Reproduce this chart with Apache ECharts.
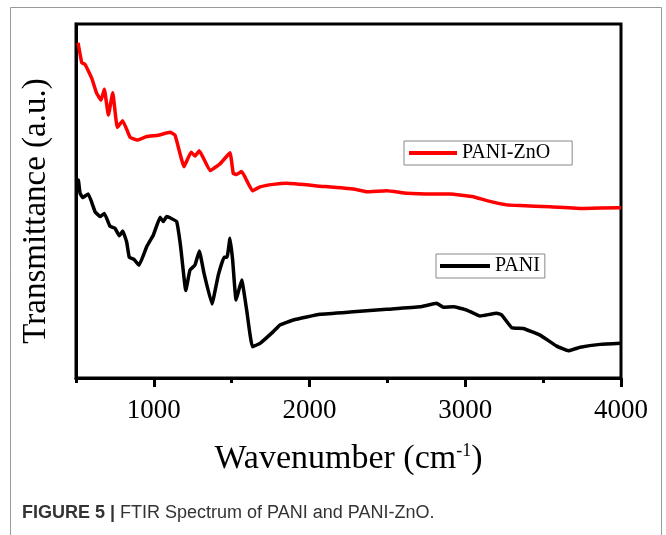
<!DOCTYPE html>
<html>
<head>
<meta charset="utf-8">
<script src="https://cdn.jsdelivr.net/npm/echarts@6/dist/echarts.min.js"></script>
<style>
html,body{margin:0;padding:0;background:#fff;}
#chart{width:666px;height:535px;}
</style>
</head>
<body>
<div id="chart"></div>
<script>
// Wavenumber (cm-1) and transmittance (arbitrary units)
var zncoWave = [513,537,558,601,633,661,682,708,736,765,800,847,894,954,1029,1104,1136,1194,1239,1264,1292,1361,1425,1489,1510,1530,1564,1633,1682,1767,1853,2067,2281,2367,2495,2624,2795,2902,3052,3138,3266,3352,3544,3758,3983,4000];
var zncoTrans = [94.7,89.1,88.6,84.7,80.4,78.5,81.6,74.3,80.6,70.8,72.7,68.0,67.2,68.2,68.6,69.4,68.6,59.7,63.8,62.7,64.2,58.6,60.5,63.6,57.8,57.5,58.3,52.9,54.0,54.7,55.0,54.2,53.4,52.6,52.9,52.2,52.0,52.0,51.2,50.1,48.9,48.7,48.4,47.9,48.1,48.1];

var paniWave = [505,515,526,543,579,622,654,682,718,750,778,800,825,842,872,905,954,997,1040,1061,1082,1146,1172,1205,1232,1264,1292,1322,1373,1414,1451,1470,1489,1506,1528,1564,1596,1633,1682,1767,1810,1896,2067,2281,2495,2709,2816,2859,2923,3009,3095,3202,3234,3298,3373,3480,3587,3662,3738,3866,4000];
var paniTrans = [53.1,55.9,52.2,51.0,52.0,47.0,45.6,46.5,42.9,42.3,40.2,41.5,38.5,34.1,33.5,31.9,37.1,40.4,45.4,44.2,45.6,44.2,37.1,24.7,30.5,31.9,35.9,29.6,20.9,29.1,34.1,34.1,39.5,33.3,22.0,27.7,19.2,8.8,9.8,13.1,15.0,16.4,18.0,18.7,19.4,20.1,21.1,20.0,20.1,19.2,17.5,18.3,17.8,14.2,14.0,12.1,9.0,7.7,8.7,9.5,9.8];

var majorTicks = [1000,2000,3000,4000];
var minorTicks = [500,1500,2500,3500];

function pairs(xs, ys){ return xs.map(function(x,i){ return [x, ys[i]]; }); }

var serif = '"Liberation Serif","Times New Roman",serif';
var sans = '"Liberation Sans",Arial,sans-serif';
var chart = echarts.init(document.getElementById('chart'), null, {renderer:'canvas'});
chart.setOption({
  backgroundColor:'#fff',
  animation:false,
  grid:{left:76, right:45, top:24, bottom:157, show:true, borderColor:'#000', borderWidth:3, backgroundColor:'transparent'},
  legend:[
    {data:['PANI-ZnO'], left:404, top:141, orient:'horizontal', icon:'rect', itemWidth:48, itemHeight:4,
     borderColor:'#888', borderWidth:1, padding:[2,22,2,5], itemGap:0,
     textStyle:{fontFamily:serif, fontSize:20, color:'#000'}},
    {data:['PANI'], left:436, top:254, orient:'horizontal', icon:'rect', itemWidth:50, itemHeight:4,
     borderColor:'#888', borderWidth:1, padding:[2,5,2,4], itemGap:0,
     textStyle:{fontFamily:serif, fontSize:20, color:'#000'}}
  ],
  xAxis:[
    {type:'value', min:500, max:4000, position:'bottom',
     axisLine:{show:true, lineStyle:{color:'#000', width:3}},
     axisTick:{show:true, inside:false, length:9, customValues:majorTicks, lineStyle:{color:'#000', width:3}},
     axisLabel:{show:true, customValues:majorTicks, margin:19, fontFamily:serif, fontSize:27, color:'#000',
       formatter:function(v){ return String(v); }},
     splitLine:{show:false},
     name:'{a|Wavenumber (cm}{s|-1}{a|)}', nameLocation:'middle', nameGap:64,
     nameTextStyle:{rich:{a:{fontFamily:serif, fontSize:34, color:'#000'}, s:{fontFamily:serif, fontSize:18, color:'#000', verticalAlign:'top', padding:[0,0,14,0]}}}
    },
    {type:'value', min:500, max:4000, position:'bottom',
     axisLine:{show:false},
     axisTick:{show:true, inside:false, length:5, customValues:minorTicks, lineStyle:{color:'#000', width:3}},
     axisLabel:{show:false}, splitLine:{show:false}}
  ],
  yAxis:{type:'value', min:0, max:100,
     axisLine:{show:true, lineStyle:{color:'#000', width:3}},
     axisTick:{show:false}, axisLabel:{show:false}, splitLine:{show:false}},
  series:[
    {name:'PANI-ZnO', type:'line', xAxisIndex:0, data:pairs(zncoWave, zncoTrans), showSymbol:false, symbol:'none', smooth:0.1,
     lineStyle:{color:'#ff0000', width:3.5, join:'round'}, itemStyle:{color:'#ff0000'}},
    {name:'PANI', type:'line', xAxisIndex:0, data:pairs(paniWave, paniTrans), showSymbol:false, symbol:'none', smooth:0.1,
     lineStyle:{color:'#000', width:3.5, join:'round'}, itemStyle:{color:'#000'}}
  ],
  graphic:[
    {type:'rect', shape:{x:10.5, y:7.5, width:651, height:540}, style:{fill:'none', stroke:'#9a9a9a', lineWidth:1}, silent:true, z:-1},
    {type:'text', x:36, y:211, rotation:Math.PI/2, style:{text:'Transmittance (a.u.)', fontFamily:serif, fontSize:33, fill:'#000', align:'center', verticalAlign:'middle'}},
    {type:'text', x:22, y:513, style:{text:'{b|FIGURE 5 | }{n|FTIR Spectrum of PANI and PANI-ZnO.}', verticalAlign:'middle', align:'left',
       rich:{b:{fontFamily:sans, fontWeight:'bold', fontSize:18, fill:'#333'},
             n:{fontFamily:sans, fontSize:18, fill:'#333'}}}}
  ]
});
</script>
</body>
</html>
